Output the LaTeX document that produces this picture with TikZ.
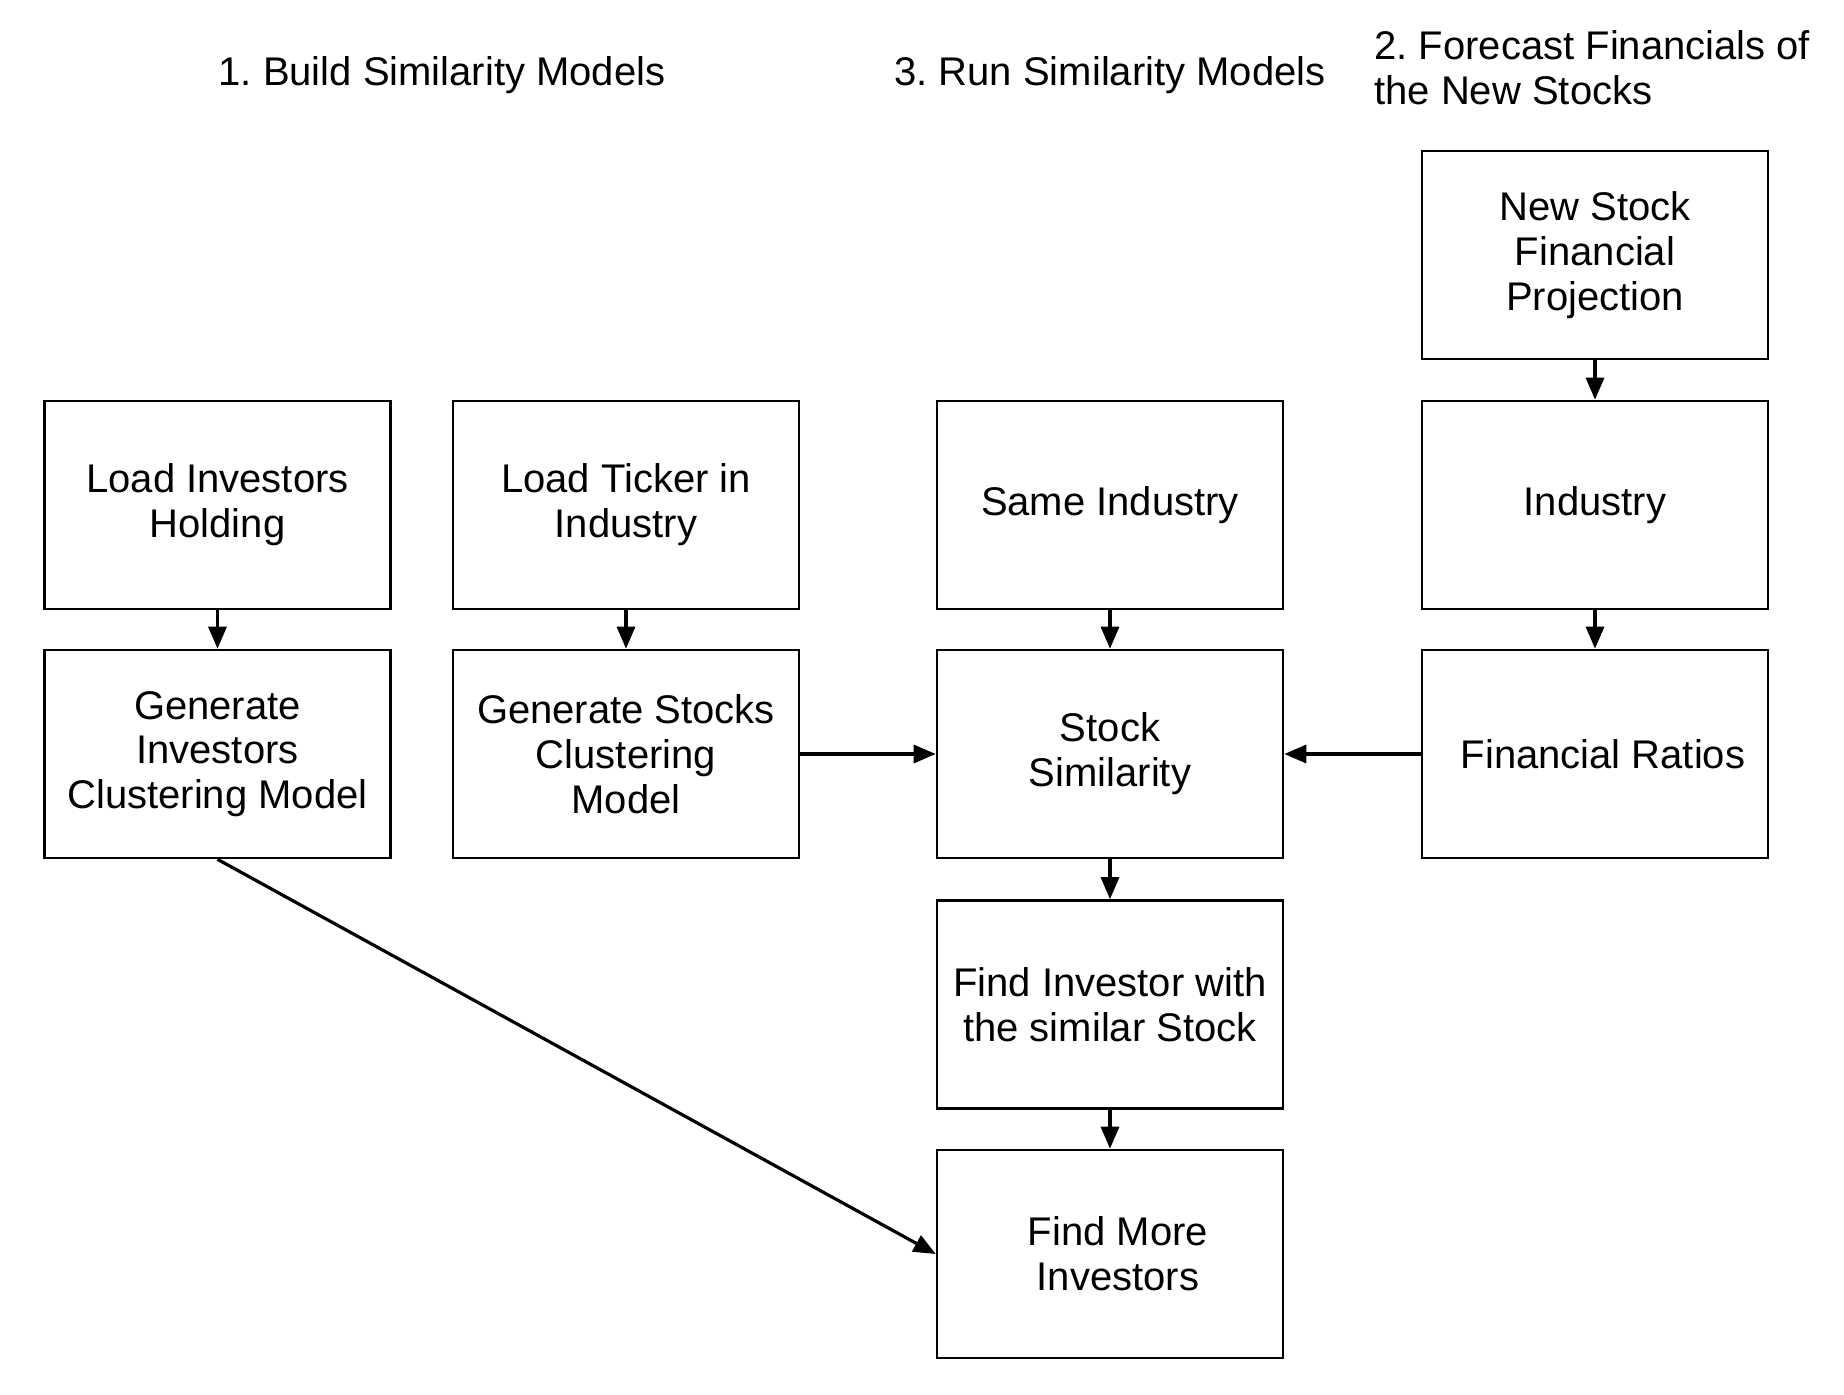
\documentclass[tikz,border=0pt]{standalone}
\usepackage{fontspec}
\setmainfont{Liberation Sans}
\usetikzlibrary{arrows.meta}
\newcommand{\flowFont}[0]{\frenchspacing\fontsize{20pt}{22.4pt}\selectfont}

\begin{document}
\begin{tikzpicture}[x=0.5pt, y=-0.5pt]
  \tikzset{every node/.style={font=\flowFont},
    step box/.style={draw, line width=1.3pt, minimum width=173pt, minimum height=104pt,
      align=center, inner sep=0pt},
    flow/.style={-{Triangle[length=11pt,width=9pt]}, line width=1.6pt}}
  \useasboundingbox (0,0) rectangle (1844,1394);
  \node (title-1) at (442,75) {1. Build Similarity Models};
  \node (title-3) at (1110,75) {3. Run Similarity Models};
  \node[anchor=west, align=left, inner sep=0pt] (title-2) at (1374,68) {2. Forecast Financials of\\the New Stocks};
  \node[step box] (new-stock) at (1595,255) {New Stock\\Financial\\Projection};
  \node[step box] (load-inv) at (217.5,505) {Load Investors\\Holding};
  \node[step box] (load-tick) at (626,505) {Load Ticker in\\Industry};
  \node[step box] (same-ind) at (1110,505) {Same Industry};
  \node[step box] (industry) at (1595,505) {Industry};
  \node[step box] (gen-inv) at (217.5,754) {Generate\\Investors\\Clustering Model};
  \node[step box] (gen-stock) at (626,754) {Generate Stocks\\Clustering\\Model};
  \node[step box] (stock-sim) at (1110,754) {Stock\\Similarity};
  \node[step box] (fin-ratio) at (1595,754) {\hspace*{8pt}Financial Ratios};
  \node[step box] (find-inv) at (1110,1004.5) {Find Investor with\\the similar Stock};
  \node[step box] (find-more) at (1110,1254) {\hspace*{8pt}Find More\\\hspace*{8pt}Investors};
  \draw[flow] (new-stock) -- (industry);
  \draw[flow] (load-inv) -- (gen-inv);
  \draw[flow] (load-tick) -- (gen-stock);
  \draw[flow] (same-ind) -- (stock-sim);
  \draw[flow] (industry) -- (fin-ratio);
  \draw[flow] (gen-stock) -- (stock-sim);
  \draw[flow] (fin-ratio) -- (stock-sim);
  \draw[flow] (stock-sim) -- (find-inv);
  \draw[flow] (find-inv) -- (find-more);
  \draw[flow] (gen-inv.south) -- (find-more.west);
\end{tikzpicture}
\end{document}
